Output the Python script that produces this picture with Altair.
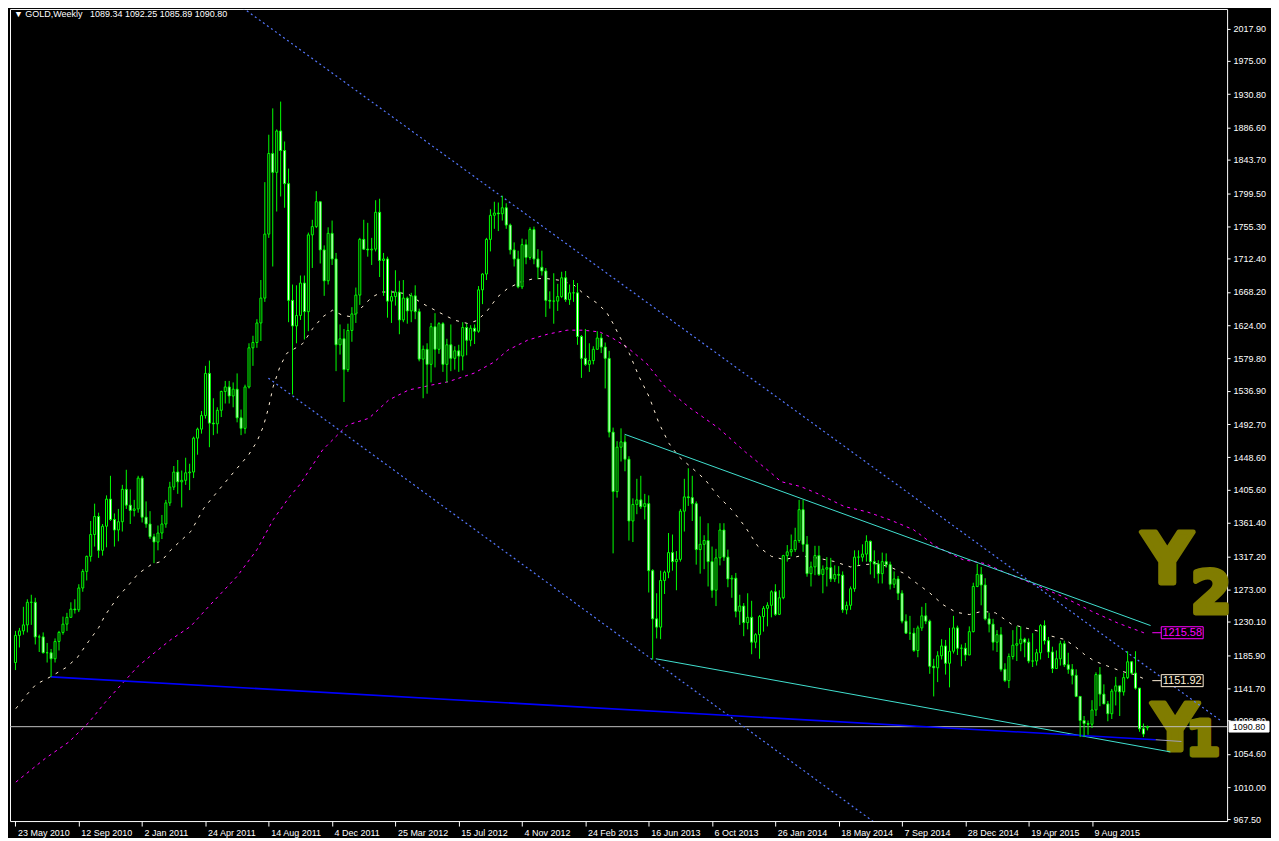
import altair as alt
import pandas as pd
import datetime as dt

# ---------------- data ----------------
START_DATE = dt.date(2010, 5, 23)          # first weekly bar
FIRST_OPEN = 1176.0
LAST_OPEN = 1089.34

CLOSE = [
 1212,1218,1226,1256,1256,1210,1210,1189,1189,1181,1204,1216,1227,1236,1247,1246,1275,1297,1317,1346,
 1370,1325,1357,1393,1366,1352,1363,1406,1385,1378,1380,1421,1369,1360,1343,1336,1348,1360,1388,1409,
 1429,1416,1418,1428,1429,1474,1486,1504,1560,1494,1493,1511,1536,1542,1530,1539,1501,1487,1542,1594,
 1601,1627,1660,1745,1852,1827,1882,1856,1812,1657,1623,1637,1680,1642,1744,1755,1788,1724,1683,1746,
 1712,1598,1606,1565,1617,1639,1664,1738,1725,1724,1725,1774,1710,1712,1656,1662,1668,1631,1660,1643,
 1663,1642,1579,1592,1572,1622,1592,1626,1572,1598,1580,1590,1583,1621,1604,1620,1616,1671,1692,1738,
 1770,1773,1772,1780,1757,1724,1712,1675,1731,1714,1751,1712,1701,1696,1657,1656,1656,1662,1687,1658,
 1667,1667,1609,1580,1572,1577,1592,1607,1595,1580,1482,1403,1462,1469,1446,1364,1386,1392,1383,1387,
 1298,1234,1223,1285,1296,1322,1310,1313,1377,1396,1395,1387,1326,1333,1338,1310,1272,1315,1352,1316,
 1287,1288,1244,1251,1229,1236,1203,1213,1237,1248,1252,1270,1240,1262,1318,1323,1326,1338,1379,1333,
 1294,1303,1318,1293,1300,1302,1287,1293,1292,1246,1252,1274,1316,1316,1320,1337,1310,1307,1294,1310,
 1306,1280,1287,1268,1231,1215,1215,1192,1222,1238,1231,1171,1169,1185,1198,1175,1191,1222,1195,1195,
 1186,1217,1277,1293,1279,1234,1227,1203,1213,1167,1152,1184,1199,1201,1207,1203,1178,1178,1189,1225,
 1205,1190,1168,1181,1201,1173,1167,1159,1131,1099,1095,1094,1113,1160,1134,1121,1108,1138,1145,1137,
 1156,1177,1162,1142,1088,1081,1090.80]

HIGH = [
 1218,1222,1250,1260,1266,1262,1213,1216,1202,1194,1208,1218,1237,1242,1256,1260,1280,1300,1318,1364,
 1387,1375,1360,1398,1424,1374,1380,1412,1432,1406,1392,1424,1424,1390,1377,1347,1358,1372,1392,1416,
 1437,1445,1431,1448,1440,1476,1488,1510,1570,1577,1527,1515,1537,1550,1550,1548,1560,1512,1545,1600,
 1610,1632,1684,1814,1877,1912,1884,1921,1868,1832,1678,1677,1690,1690,1747,1764,1802,1788,1730,1754,
 1763,1720,1625,1619,1626,1648,1674,1740,1764,1760,1740,1790,1792,1720,1715,1670,1697,1683,1684,1662,
 1667,1677,1646,1597,1600,1627,1640,1628,1628,1606,1625,1596,1598,1628,1626,1624,1625,1676,1693,1740,
 1778,1788,1787,1796,1786,1759,1734,1723,1739,1738,1754,1755,1725,1723,1700,1669,1693,1679,1695,1696,
 1678,1684,1680,1611,1619,1600,1596,1616,1613,1601,1590,1488,1470,1487,1478,1450,1394,1420,1424,1400,
 1398,1300,1268,1298,1298,1348,1346,1324,1380,1420,1434,1424,1390,1370,1345,1361,1330,1327,1361,1361,
 1326,1292,1295,1266,1255,1268,1258,1215,1239,1251,1256,1272,1280,1272,1319,1332,1346,1355,1392,1392,
 1344,1310,1331,1331,1305,1316,1315,1305,1304,1297,1257,1277,1325,1325,1333,1345,1338,1325,1312,1322,
 1321,1310,1297,1291,1272,1240,1238,1222,1225,1250,1255,1233,1181,1191,1207,1206,1222,1238,1225,1200,
 1202,1224,1282,1307,1303,1288,1242,1234,1219,1223,1175,1188,1219,1224,1224,1209,1208,1215,1194,1227,
 1232,1210,1197,1192,1205,1205,1189,1174,1167,1131,1105,1099,1126,1163,1170,1147,1125,1141,1157,1143,
 1162,1191,1178,1191,1142,1095,1092.25]

LOW = [
 1166,1196,1213,1216,1226,1200,1190,1188,1176,1157,1176,1192,1213,1218,1237,1241,1243,1270,1285,1310,
 1330,1315,1318,1329,1364,1330,1337,1350,1380,1360,1370,1375,1362,1355,1340,1308,1325,1340,1355,1384,
 1405,1400,1382,1412,1405,1421,1452,1480,1500,1462,1478,1480,1502,1520,1520,1515,1495,1478,1480,1540,
 1570,1594,1603,1655,1740,1702,1775,1795,1780,1628,1532,1600,1631,1605,1616,1700,1753,1706,1663,1678,
 1704,1563,1585,1522,1562,1602,1627,1651,1724,1715,1704,1722,1688,1663,1634,1627,1650,1612,1628,1626,
 1628,1632,1576,1527,1533,1548,1568,1586,1562,1548,1563,1565,1562,1564,1584,1596,1599,1614,1652,1684,
 1722,1752,1749,1763,1752,1718,1702,1673,1672,1705,1711,1705,1685,1690,1635,1646,1626,1643,1660,1655,
 1651,1655,1598,1554,1570,1562,1572,1595,1587,1540,1475,1321,1395,1443,1430,1338,1336,1373,1380,1366,
 1269,1180,1208,1207,1267,1288,1298,1272,1310,1350,1384,1364,1306,1294,1300,1277,1262,1251,1305,1311,
 1276,1262,1236,1226,1211,1220,1187,1195,1181,1217,1224,1236,1238,1239,1260,1310,1317,1323,1335,1323,
 1290,1277,1292,1291,1268,1277,1283,1283,1281,1242,1240,1246,1270,1305,1310,1310,1293,1288,1281,1281,
 1302,1273,1275,1259,1228,1214,1206,1190,1183,1218,1227,1161,1131,1150,1180,1160,1143,1188,1186,1171,
 1178,1186,1216,1276,1252,1232,1216,1192,1190,1164,1150,1142,1180,1178,1191,1183,1175,1170,1172,1180,
 1200,1182,1162,1171,1172,1170,1161,1147,1130,1077,1077,1080,1089,1105,1118,1121,1098,1101,1119,1105,
 1132,1154,1160,1140,1084,1077,1085.89]

# moving averages: (week index, price)
WMA_WEEK = [0.1,2.7,5.2,8.9,12.7,15.6,18.5,21.0,22.6,26.0,28.5,31.0,34.3,36.8,39.3,44.3,47.6,51.4,56.0,58.9,
            61.0,62.6,63.9,65.1,66.8,68.5,71.0,72.6,75.1,77.6,80.1,82.6,85.1,87.6,90.1,92.6,96.0,99.3,102.6,106.0,
            109.3,111.0,114.3,116.8,119.3,121.8,124.3,127.6,131.0,134.3,137.6,141.0,143.5,146.8,149.3,151.0,152.6,155.1,157.6,160.1,
            162.6,165.1,167.6,171.0,174.3,177.6,181.0,184.3,187.6,191.0,194.3,198.5,202.6,206.8,211.0,214.3,217.6,221.0,224.3,227.6,
            231.0,234.3,237.6,241.0,244.3,247.6,251.8,255.1,258.5,261.8,265.1,267.6,270.1,272.6,276.0,279.3,282.6,285.1,286.0]
WMA_PRICE = [1114.8,1132.4,1147.0,1157.2,1169.1,1182.4,1204.3,1222.1,1238.4,1264.0,1278.2,1294.0,1306.0,1310.3,1325.8,1350.1,1381.1,1405.4,1434.1,1451.7,
             1469.4,1489.2,1513.6,1542.2,1568.7,1586.5,1594.4,1599.7,1619.6,1635.0,1643.9,1637.2,1635.0,1648.2,1661.5,1668.1,1668.1,1665.1,1653.5,1643.9,
             1635.0,1630.6,1626.2,1630.6,1643.9,1661.5,1672.6,1681.4,1685.9,1685.9,1683.6,1677.9,1666.0,1653.8,1641.6,1626.2,1609.4,1586.5,1555.1,1529.0,
             1493.7,1467.2,1449.5,1434.1,1418.6,1396.5,1378.9,1356.8,1330.2,1317.0,1312.6,1317.9,1314.8,1310.3,1302.9,1306.0,1307.3,1302.9,1294.9,1281.7,
             1268.5,1253.0,1242.8,1239.7,1244.1,1242.0,1226.5,1222.1,1217.6,1211.0,1206.6,1197.7,1186.7,1177.9,1171.2,1164.6,1160.2,1154.5,1151.92]

MMA_WEEK = [0.1,7.6,13.5,18.5,22.6,26.8,31.0,35.1,39.3,44.3,48.5,52.2,56.0,61.0,65.1,69.3,71.8,77.6,83.9,89.3,
            94.3,99.3,105.1,109.3,115.9,120.9,124.4,129.4,134.4,139.4,143.4,147.6,150.9,154.4,159.4,164.4,170.1,177.6,184.4,190.9,
            193.4,198.4,203.4,209.4,215.1,220.9,226.9,232.6,239.4,245.1,250.1,257.6,264.4,271.9,278.4,285.1,286.0]
MMA_PRICE = [1017.2,1048.9,1070.5,1096.2,1122.7,1147.0,1171.2,1188.9,1206.6,1224.2,1248.6,1269.3,1290.5,1325.8,1365.6,1396.5,1412.0,1458.4,1491.5,1500.4,
             1524.6,1537.9,1544.5,1548.9,1560.4,1575.0,1590.9,1604.1,1612.0,1617.4,1617.4,1615.1,1606.7,1595.2,1573.6,1540.5,1515.3,1487.5,1455.7,1427.9,
             1416.3,1409.7,1398.7,1383.2,1376.2,1365.6,1352.4,1330.2,1312.6,1307.3,1295.4,1279.5,1264.0,1244.1,1228.7,1215.5,1215.58]

# trend lines: (week, price) end points
CHANNEL_DOTTED = {"upper": [(55.4, 2053.3), (304.9, 1097.4)],
                  "lower": [(63.9, 1553.7), (216.9, 964.1)]}
CHANNEL_CYAN = {"upper": [(153.9, 1479.2), (286.8, 1225.1)],
                "lower": [(161.8, 1181.0), (291.8, 1057.3)]}
SUPPORT_BLUE = [(9.0, 1157.0), (288.1, 1073.4)]
SUPPORT_GREY = [(288.1, 1073.4), (294.6, 1071.1)]

MA_LABELS = [1215.58, 1151.92]
MA_COLORS = ["#FF00FF", "#FFF0D8"]
LAST_PRICE = 1090.80

X_TICK_LABELS = ["23 May 2010", "12 Sep 2010", "2 Jan 2011", "24 Apr 2011", "14 Aug 2011",
                 "4 Dec 2011", "25 Mar 2012", "15 Jul 2012", "4 Nov 2012", "24 Feb 2013",
                 "16 Jun 2013", "6 Oct 2013", "26 Jan 2014", "18 May 2014", "7 Sep 2014",
                 "28 Dec 2014", "19 Apr 2015", "9 Aug 2015"]
X_TICK_STEP = 16
Y_TICKS = [2017.90, 1975.00, 1930.80, 1886.60, 1843.70, 1799.50, 1755.30, 1712.40, 1668.20,
           1624.00, 1579.80, 1536.90, 1492.70, 1448.60, 1405.60, 1361.40, 1317.20, 1273.00,
           1230.10, 1185.90, 1141.70, 1098.80, 1054.60, 1010.00, 967.50]

HEADER = "\u25BC GOLD,Weekly\u00a0\u00a0 1089.34 1092.25 1085.89 1090.80"

# ---------------- tables ----------------
n = len(CLOSE)
OPEN = [FIRST_OPEN] + CLOSE[:n - 2] + [LAST_OPEN]
bars = pd.DataFrame({
    "w": list(range(n)),
    "date": [(START_DATE + dt.timedelta(weeks=i)).isoformat() for i in range(n)],
    "open": OPEN, "high": HIGH, "low": LOW, "close": CLOSE,
})

wma = pd.DataFrame({"w": WMA_WEEK, "p": WMA_PRICE})
mma = pd.DataFrame({"w": MMA_WEEK, "p": MMA_PRICE})

def line_df(d):
    rows = []
    for k, pts in d.items():
        for (w, p) in pts:
            rows.append({"id": k, "w": w, "p": p})
    return pd.DataFrame(rows)

dotted = line_df(CHANNEL_DOTTED)
cyan = line_df(CHANNEL_CYAN)
blue = line_df({"s": SUPPORT_BLUE})
grey = line_df({"s": SUPPORT_GREY})
labels = pd.DataFrame({"p": MA_LABELS, "col": MA_COLORS,
                       "txt": [f"{v:.2f}" for v in MA_LABELS]})
last = pd.DataFrame({"p": [LAST_PRICE], "txt": [f"{LAST_PRICE:.2f}"]})
one = pd.DataFrame({"a": [0]})

# ---------------- scales / axes ----------------
FONT = "Liberation Sans"
xs = alt.Scale(domain=[-0.125, 304.875], nice=False, zero=False)
ys = alt.Scale(domain=[965.45, 2044.0], nice=False, zero=False)

label_array = "[" + ",".join("'" + s + "'" for s in X_TICK_LABELS) + "]"
xaxis = alt.Axis(values=[i * X_TICK_STEP for i in range(len(X_TICK_LABELS))],
                 labelExpr=label_array + f"[round(datum.value/{X_TICK_STEP})]",
                 labelAlign="left", labelBaseline="top", labelPadding=2, labelOffset=2,
                 tickSize=5, tickColor="#FFFFFF", labelColor="#FFFFFF", labelFont=FONT,
                 labelFontSize=9, domain=False, grid=False, labelOverlap=False,
                 labelFlush=False, labelBound=False, title=None)
yaxis = alt.Axis(orient="right", values=Y_TICKS, format=".2f", tickSize=3,
                 tickColor="#FFFFFF", labelColor="#FFFFFF", labelFont=FONT, labelFontSize=9,
                 labelPadding=3, domain=False, grid=False, labelOverlap=False,
                 labelFlush=False, labelBound=False, title=None)

def X(f="w"):
    return alt.X(f, type="quantitative", scale=xs, axis=xaxis)

def Y(f):
    return alt.Y(f, type="quantitative", scale=ys, axis=yaxis)

# ---------------- layers ----------------
OLIVE = "#807C00"
def olive(txt, x, y, size):
    return alt.Chart(one).mark_text(font="DejaVu Sans", fontWeight="bold", fontSize=size,
                                    color=OLIVE, stroke=OLIVE, strokeWidth=5,
                                    strokeJoin="round", align="center",
                                    baseline="middle").encode(
        x=alt.value(x), y=alt.value(y), text=alt.value(txt))

ann = [olive("Y", 1160, 554, 70), olive("2", 1204, 588, 58),
       olive("Y", 1168, 724, 64), olive("1", 1196, 734, 48)]

price_line = alt.Chart(last).mark_rule(color="#C0C0C0", strokeWidth=1).encode(y=Y("p"))

mma_line = alt.Chart(mma).mark_line(color="#FF00FF", strokeWidth=1, strokeDash=[3, 4],
                                    clip=True).encode(x=X(), y=Y("p"))
wma_line = alt.Chart(wma).mark_line(color="#FFF0D8", strokeWidth=1, strokeDash=[3, 6],
                                    clip=True).encode(x=X(), y=Y("p"))

dotted_lines = alt.Chart(dotted).mark_line(color="#5578FF", strokeWidth=1.2, strokeDash=[2, 3],
                                           clip=True).encode(x=X(), y=Y("p"), detail="id:N")
cyan_lines = alt.Chart(cyan).mark_line(color="#40E0D0", strokeWidth=1, clip=True).encode(
    x=X(), y=Y("p"), detail="id:N")
blue_line = alt.Chart(blue).mark_line(color="#0000FF", strokeWidth=1.6, clip=True).encode(
    x=X(), y=Y("p"))
grey_line = alt.Chart(grey).mark_line(color="#A0A0B8", strokeWidth=1.2, clip=True).encode(
    x=X(), y=Y("p"))

wicks = alt.Chart(bars).mark_rule(color="#00FF00", strokeWidth=1).encode(
    x=X(), y=Y("low"), y2="high")
bodies = alt.Chart(bars).mark_bar(size=2, stroke="#00FF00", strokeWidth=1).encode(
    x=X(), y=Y("open"), y2="close",
    fill=alt.condition("datum.close >= datum.open", alt.value("#000000"), alt.value("#FFFFFF")),
    tooltip=["date:N", "open:Q", "high:Q", "low:Q", "close:Q"])

BOX = "M -1 -0.2857 L 1 -0.2857 L 1 0.2857 L -1 0.2857 Z"
BOX2 = "M -1 -0.27 L 1 -0.27 L 1 0.27 L -1 0.27 Z"
lab_conn = alt.Chart(labels).mark_rule(strokeWidth=1).encode(
    x=alt.value(1145), x2=alt.value(1154), y=Y("p"), color=alt.Color("col:N", scale=None))
lab_box = alt.Chart(labels).mark_point(shape=BOX, size=1764, filled=True, fill="#000000",
                                       strokeWidth=1, opacity=1).encode(
    x=alt.value(1175), y=Y("p"), stroke=alt.Stroke("col:N", scale=None))
lab_txt = alt.Chart(labels).mark_text(font=FONT, fontSize=11, align="center",
                                      baseline="middle").encode(
    x=alt.value(1175), y=Y("p"), text="txt:N", color=alt.Color("col:N", scale=None))

last_box = alt.Chart(last).mark_point(shape=BOX2, size=1600, filled=True, fill="#FFFFFF",
                                      stroke="#FFFFFF", strokeWidth=1, opacity=1).encode(
    x=alt.value(1242), y=Y("p"))
last_txt = alt.Chart(last).mark_text(font=FONT, fontSize=9, color="#000000", align="center",
                                     baseline="middle").encode(
    x=alt.value(1242), y=Y("p"), text="txt:N")

header = alt.Chart(one).mark_text(font=FONT, fontSize=9, color="#FFFFFF", align="left",
                                  baseline="top").encode(
    x=alt.value(4), y=alt.value(1), text=alt.value(HEADER))

chart = alt.layer(
    *ann, price_line, mma_line, wma_line, dotted_lines, cyan_lines, blue_line, grey_line,
    wicks, bodies, lab_conn, lab_box, lab_txt, last_box, last_txt, header
).properties(
    width=1220, height=814,
    padding={"left": 1, "top": 0, "right": 0, "bottom": 0},
    background="#000000",
).configure_view(
    stroke="#FFFFFF", strokeWidth=1, fill="#000000"
)

chart.save("out.html", embed_options={"renderer": "svg", "actions": False})
